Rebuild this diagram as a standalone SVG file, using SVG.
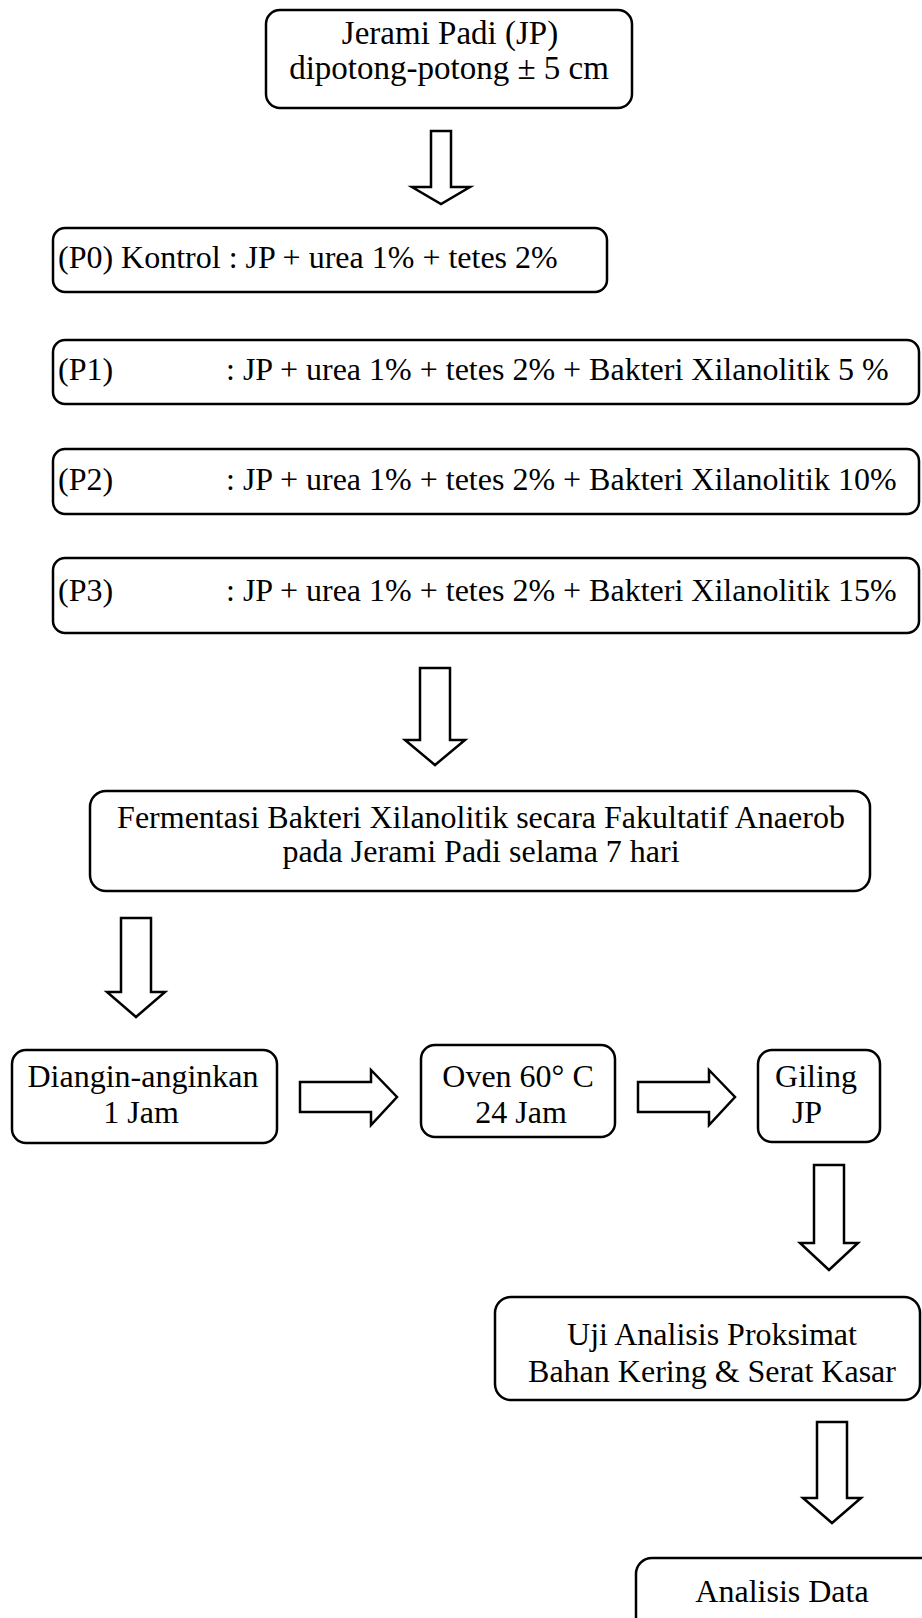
<svg xmlns="http://www.w3.org/2000/svg" width="922" height="1618" viewBox="0 0 922 1618">
<style>
.box{fill:#fff;stroke:#000;stroke-width:2.5}
.arr{fill:#fff;stroke:#000;stroke-width:2.5;stroke-linejoin:miter}
text{font-family:"Liberation Serif","Times New Roman",serif;font-size:32px;fill:#000}
.c{text-anchor:middle}
.big{font-size:33px}
</style>
<rect width="922" height="1618" fill="#fff"/>
<g id="connectors">
<path class="arr" d="M431,131 H451 V187 H470 L441,204 L412,187 H431 Z"/>
<path class="arr" d="M420,668 H450 V740 H465 L435,765 L405,740 H420 Z"/>
<path class="arr" d="M121,918 H151 V992 H165 L136,1017 L107,992 H121 Z"/>
<path class="arr" d="M300,1082 H371 V1070 L397,1097 L371,1125 V1112 H300 Z"/>
<path class="arr" d="M638,1082 H709 V1070 L735,1097 L709,1125 V1112 H638 Z"/>
<path class="arr" d="M814,1165 H844 V1243 H858 L829,1270 L800,1243 H814 Z"/>
<path class="arr" d="M817,1422 H847 V1498 H861 L832,1523 L803,1498 H817 Z"/>
</g>
<g id="n-jerami">
<rect class="box" x="266" y="10" width="366" height="98" rx="14"/>
<text class="c big" x="450" y="44">Jerami Padi (JP)</text>
<text class="c big" x="449" y="79">dipotong-potong ± 5 cm</text>
</g>
<g id="n-p0">
<rect class="box" x="53" y="228" width="554" height="64" rx="12"/>
<text x="58" y="268">(P0) Kontrol : JP + urea 1% + tetes 2%</text>
</g>
<g id="n-p1">
<rect class="box" x="53" y="340" width="866" height="64" rx="12"/>
<text x="58" y="380">(P1)</text>
<text x="226" y="380">: JP + urea 1% + tetes 2% + Bakteri Xilanolitik 5 %</text>
</g>
<g id="n-p2">
<rect class="box" x="53" y="449" width="866" height="65" rx="12"/>
<text x="58" y="490">(P2)</text>
<text x="226" y="490">: JP + urea 1% + tetes 2% + Bakteri Xilanolitik 10%</text>
</g>
<g id="n-p3">
<rect class="box" x="53" y="558" width="866" height="75" rx="12"/>
<text x="58" y="601">(P3)</text>
<text x="226" y="601">: JP + urea 1% + tetes 2% + Bakteri Xilanolitik 15%</text>
</g>
<g id="n-fermentasi">
<rect class="box" x="90" y="791" width="780" height="100" rx="16"/>
<text class="c" x="481" y="828">Fermentasi Bakteri Xilanolitik secara Fakultatif Anaerob</text>
<text class="c" x="481" y="862">pada Jerami Padi selama 7 hari</text>
</g>
<g id="n-diangin">
<rect class="box" x="12" y="1050" width="265" height="93" rx="14"/>
<text class="c" x="143" y="1087">Diangin-anginkan</text>
<text class="c" x="141" y="1123">1 Jam</text>
</g>
<g id="n-oven">
<rect class="box" x="421" y="1045" width="194" height="92" rx="14"/>
<text class="c" x="518" y="1087">Oven 60° C</text>
<text class="c" x="521" y="1123">24 Jam</text>
</g>
<g id="n-giling">
<rect class="box" x="758" y="1050" width="122" height="92" rx="14"/>
<text class="c" x="816" y="1087">Giling</text>
<text class="c" x="807" y="1123">JP</text>
</g>
<g id="n-uji">
<rect class="box" x="495" y="1297" width="425" height="103" rx="16"/>
<text class="c" x="712" y="1345">Uji Analisis Proksimat</text>
<text class="c" x="712" y="1382">Bahan Kering &amp; Serat Kasar</text>
</g>
<g id="n-analisis">
<rect class="box" x="636" y="1558" width="300" height="100" rx="16"/>
<text class="c" x="782" y="1602">Analisis Data</text>
</g>
</svg>
